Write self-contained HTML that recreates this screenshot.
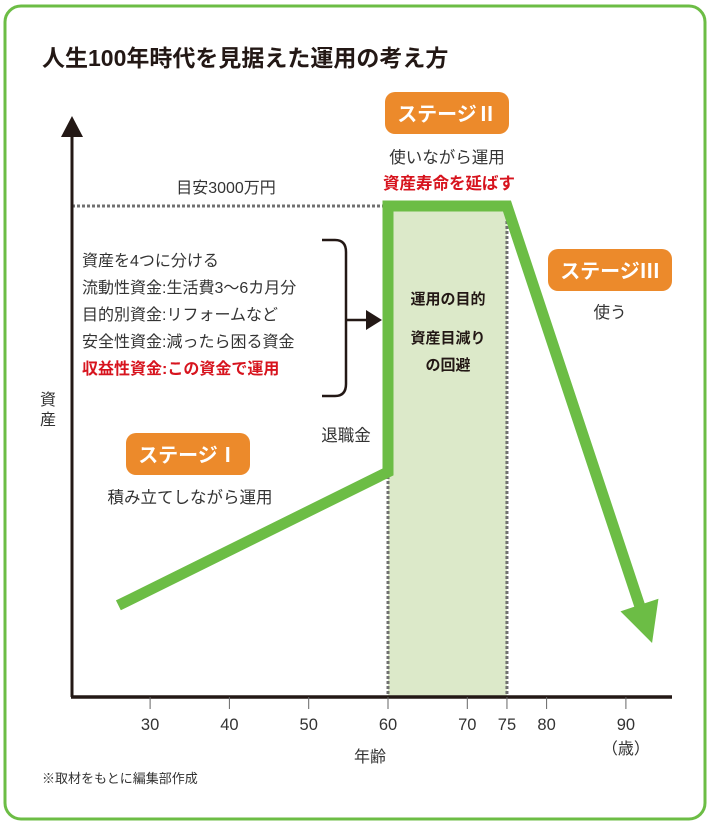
<!DOCTYPE html>
<html><head><meta charset="utf-8">
<style>
html,body{margin:0;padding:0;background:#fff;}
svg{display:block;font-family:"Liberation Sans","Noto Sans CJK JP",sans-serif;}
</style></head>
<body>
<svg id="chart" width="710" height="826" viewBox="0 0 710 826">
<rect x="5" y="6" width="700" height="813" rx="16" fill="#fff" stroke="#6cbd45" stroke-width="3"/>
<text x="42" y="66" font-size="23" font-weight="bold" fill="#231815">人生100年時代を見据えた運用の考え方</text>
<g id="plot"></g>
<text x="40" y="405" font-size="16" fill="#333"><tspan x="40" dy="0">資</tspan><tspan x="40" dy="20">産</tspan></text>
<text x="370" y="762" font-size="16" fill="#333" text-anchor="middle">年齢</text>
<text x="42" y="783" font-size="13" fill="#333">※取材をもとに編集部作成</text>
<text x="226" y="193" font-size="16" fill="#333" text-anchor="middle">目安3000万円</text>

<g>
<rect x="385" y="92" width="124" height="42" rx="10" fill="#ec8a2b"/>
<text x="447" y="121" font-size="20" font-weight="bold" fill="#fff" text-anchor="middle">ステージⅡ</text>
</g>
<text x="447" y="163" font-size="16.5" fill="#333" text-anchor="middle">使いながら運用</text>
<text x="449" y="189" font-size="16.5" font-weight="bold" fill="#d7141e" text-anchor="middle">資産寿命を延ばす</text>

<g>
<rect x="548" y="249" width="124" height="42" rx="10" fill="#ec8a2b"/>
<text x="610" y="278" font-size="20" font-weight="bold" fill="#fff" text-anchor="middle">ステージⅢ</text>
</g>
<text x="610" y="318" font-size="16.5" fill="#333" text-anchor="middle">使う</text>

<g>
<rect x="126" y="433" width="124" height="42" rx="10" fill="#ec8a2b"/>
<text x="188" y="462" font-size="20" font-weight="bold" fill="#fff" text-anchor="middle">ステージⅠ</text>
</g>
<text x="190" y="503" font-size="16.5" fill="#333" text-anchor="middle">積み立てしながら運用</text>
<text x="346" y="441" font-size="16.5" fill="#333" text-anchor="middle">退職金</text>

<g font-size="16" fill="#333">
<text x="82" y="266">資産を4つに分ける</text>
<text x="82" y="293">流動性資金:生活費3～6カ月分</text>
<text x="82" y="320">目的別資金:リフォームなど</text>
<text x="82" y="347">安全性資金:減ったら困る資金</text>
<text x="82" y="374" fill="#d7141e" font-weight="bold">収益性資金:この資金で運用</text>
</g>
<path d="M322,240 L335,240 Q346,240 346,252 L346,384 Q346,396 335,396 L322,396" fill="none" stroke="#231815" stroke-width="2.5"/>
<line x1="346" y1="320" x2="368" y2="320" stroke="#231815" stroke-width="2.5"/>
<polygon points="366,310 382,320 366,330" fill="#231815"/>

<g font-size="15" font-weight="bold" fill="#231815" text-anchor="middle">
<text x="448" y="304">運用の目的</text>
<text x="448" y="343">資産目減り</text>
<text x="448" y="370">の回避</text>
</g>
</svg>
<script>
const xTicks=[30,40,50,60,70,75,80,90];
const pathAges=[26,60,60,75,93.3];
const pathValues=[560,1375,3000,3000,330];
const targetValue=3000;
const stage2Range=[60,75];

const svgNS="http://www.w3.org/2000/svg";
const plot=document.getElementById('plot');
const x0=72,yBase=697;
function xs(a){return 388+(a-60)*7.93;}
function ys(v){return yBase-v*(697-206)/3000;}
function mk(t,at){const e=document.createElementNS(svgNS,t);for(const k in at)e.setAttribute(k,at[k]);plot.appendChild(e);return e;}

let r=mk('rect',{x:xs(stage2Range[0]),y:ys(targetValue),width:xs(stage2Range[1])-xs(stage2Range[0]),height:yBase-ys(targetValue),fill:'#dce9c9'});


stage2Range.forEach(a=>{
 const l=mk('line',{x1:xs(a),y1:ys(targetValue),x2:xs(a),y2:yBase,stroke:'#707070','stroke-width':3,'stroke-dasharray':'3,2'});
 
 
});
let h=mk('line',{x1:x0,y1:ys(targetValue),x2:xs(60),y2:ys(targetValue),stroke:'#707070','stroke-width':3,'stroke-dasharray':'3,2'});



let ya=mk('line',{x1:x0,y1:yBase,x2:x0,y2:135,stroke:'#231815','stroke-width':3});


mk('polygon',{points:`${x0-11},137 ${x0},116 ${x0+11},137`,fill:'#231815'});
let xa=mk('line',{x1:x0-1,y1:yBase,x2:672,y2:yBase,stroke:'#231815','stroke-width':3.5});


xTicks.forEach(t=>{
 const tk=mk('line',{x1:xs(t),y1:yBase,x2:xs(t),y2:yBase+12,stroke:'#666','stroke-width':1});
 
 
 const tx=mk('text',{x:xs(t),y:yBase+33,'font-size':16.5,fill:'#333','text-anchor':'middle'});
 tx.textContent=t;
 
 
});
let sai=mk('text',{x:xs(90),y:yBase+57,'font-size':16,fill:'#333','text-anchor':'middle'});
sai.textContent='（歳）';



const n=pathAges.length;
const ex=xs(pathAges[n-1]),ey=ys(pathValues[n-1]);
const px=xs(pathAges[n-2]),py=ys(pathValues[n-2]);
const dx=ex-px,dy=ey-py,L=Math.hypot(dx,dy),ux=dx/L,uy=dy/L;
const head=40;
let pts=pathAges.map((a,i)=>[xs(a),ys(pathValues[i])]);
pts[n-1]=[ex-ux*(head-4),ey-uy*(head-4)];
let pl=mk('polyline',{points:pts.map(p=>p.join(',')).join(' '),fill:'none',stroke:'#6cbd45','stroke-width':11,'stroke-linejoin':'miter'});


const bx=ex-ux*head,by=ey-uy*head,nx=-uy,ny=ux,w=20;
let ah=mk('polygon',{points:`${ex},${ey} ${bx+nx*w},${by+ny*w} ${bx-nx*w},${by-ny*w}`,fill:'#6cbd45'});


</script>
</body></html>
